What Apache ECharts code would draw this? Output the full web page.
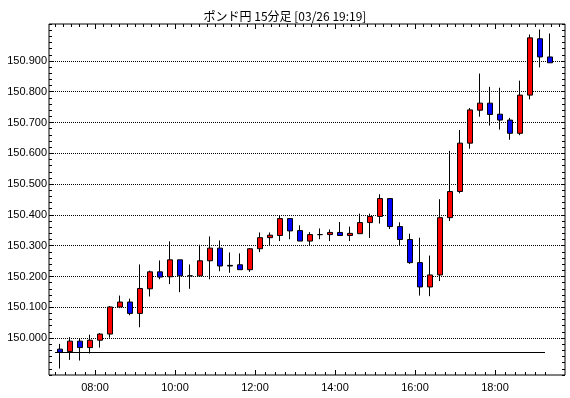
<!DOCTYPE html>
<html>
<head>
<meta charset="utf-8">
<script src="https://cdn.jsdelivr.net/npm/echarts@6/dist/echarts.min.js"></script>
<style>
  html, body { margin: 0; padding: 0; background: #fff; }
  #main { width: 570px; height: 398px; }
</style>
</head>
<body>
<div id="main"></div>
<script>
// 15分足 ローソク足 (07:00 - 19:15)
const candleTimes = ['07:00','07:15','07:30','07:45','08:00','08:15','08:30','08:45',
  '09:00','09:15','09:30','09:45','10:00','10:15','10:30','10:45',
  '11:00','11:15','11:30','11:45','12:00','12:15','12:30','12:45',
  '13:00','13:15','13:30','13:45','14:00','14:15','14:30','14:45',
  '15:00','15:15','15:30','15:45','16:00','16:15','16:30','16:45',
  '17:00','17:15','17:30','17:45','18:00','18:15','18:30','18:45',
  '19:00','19:15'];
const openVals = [149.964,149.956,149.990,149.969,149.993,150.013,150.101,150.117,
  150.080,150.160,150.215,150.199,150.254,150.202,150.202,150.251,
  150.292,150.236,150.238,150.222,150.290,150.326,150.333,150.388,
  150.349,150.315,150.336,150.336,150.343,150.333,150.339,150.375,
  150.395,150.453,150.362,150.320,150.245,150.166,150.205,150.391,
  150.476,150.633,150.740,150.763,150.727,150.708,150.665,150.789,
  150.972,150.913];
const closeVals = [149.954,149.990,149.969,149.993,150.013,150.101,150.117,150.080,
  150.161,150.215,150.198,150.254,150.202,150.202,150.251,150.292,
  150.234,150.234,150.222,150.290,150.326,150.334,150.388,150.348,
  150.315,150.336,150.336,150.343,150.333,150.340,150.375,150.395,
  150.453,150.362,150.320,150.245,150.166,150.205,150.391,150.476,
  150.633,150.741,150.763,150.726,150.708,150.665,150.789,150.975,
  150.913,150.894];
const lowVals = [149.901,149.929,149.927,149.950,149.969,150.001,150.097,150.074,
  150.035,150.135,150.191,150.175,150.149,150.160,150.202,150.191,
  150.217,150.212,150.222,150.215,150.279,150.300,150.315,150.321,
  150.315,150.302,150.321,150.315,150.333,150.315,150.339,150.325,
  150.372,150.354,150.300,150.241,150.138,150.136,150.185,150.380,
  150.470,150.615,150.719,150.690,150.677,150.644,150.659,150.775,
  150.879,150.894];
const highVals = [149.981,150.003,149.997,150.011,150.016,150.104,150.138,150.128,
  150.239,150.219,150.252,150.314,150.254,150.239,150.303,150.330,
  150.317,150.278,150.275,150.292,150.343,150.343,150.397,150.388,
  150.366,150.344,150.356,150.353,150.377,150.362,150.404,150.404,
  150.467,150.453,150.376,150.339,150.326,150.268,150.451,150.608,
  150.676,150.747,150.859,150.816,150.813,150.715,150.836,150.986,
  151.002,150.989];

// 基準線
const refLineValue = 149.954;
const refLineFrom = '07:00';
const refLineTo = '19:15';

// 目盛
const yLabelValues = [150.0,150.1,150.2,150.3,150.4,150.5,150.6,150.7,150.8,150.9];
const xLabelTimes = ['08:00','10:00','12:00','14:00','16:00','18:00'];
const yMin = 149.88, yMax = 151.02;
const xMin = 411, xMax = 1185; // minutes

function toMin(t) { const p = t.split(':'); return (+p[0]) * 60 + (+p[1]); }
function toTime(m) {
  const h = Math.floor(m / 60), mm = m % 60;
  return (h < 10 ? '0' : '') + h + ':' + (mm < 10 ? '0' : '') + mm;
}

const xLabelMins = xLabelTimes.map(toMin);
const bottomTicks = [];
for (let m = 420; m <= 1155; m += 15) bottomTicks.push(m);
const topTicks = [];
for (let m = 420; m <= 1180; m += 12) topTicks.push(m);
const yMinorTicks = [];
for (let i = 0; i <= 57; i++) yMinorTicks.push(Math.round((yMin + i * 0.02) * 1000) / 1000);

const candleData = candleTimes.map((t, i) =>
  [toMin(t) + 7.5, openVals[i], closeVals[i], lowVals[i], highVals[i]]);

const labelFont = { fontFamily: 'Liberation Sans', fontSize: 11, color: '#000' };

function tickAxis(pos, ticks, len, extra) {
  return Object.assign({
    type: 'value', position: pos, min: xMin, max: xMax,
    axisLine: { show: false },
    axisTick: { show: true, inside: true, length: len, customValues: ticks, lineStyle: { color: '#000' } },
    axisLabel: { show: false },
    splitLine: { show: false }
  }, extra || {});
}

function yTickAxis(pos) {
  return {
    type: 'value', position: pos, min: yMin, max: yMax,
    axisLine: { show: false },
    axisTick: { show: true, inside: true, length: 3, customValues: yMinorTicks, lineStyle: { color: '#000' } },
    axisLabel: { show: false },
    splitLine: { show: false }
  };
}

let chart = echarts.init(document.getElementById('main'));
let option = {
  animation: false,
  backgroundColor: '#fff',
  title: {
    text: 'ポンド円 15分足 [03/26 19:19]',
    left: 'center',
    top: 5,
    textStyle: { fontFamily: 'Noto Sans CJK JP', fontSize: 12, fontWeight: 'normal', color: '#000' }
  },
  grid: {
    left: 49, right: 5, top: 24, bottom: 23,
    show: true, borderColor: '#000', borderWidth: 1, backgroundColor: 'transparent'
  },
  xAxis: [
    tickAxis('bottom', bottomTicks, 3, {
      axisLabel: Object.assign({
        show: true, margin: 7, customValues: xLabelMins,
        formatter: v => toTime(v)
      }, labelFont)
    }),
    tickAxis('bottom', xLabelMins, 5),
    tickAxis('top', topTicks, 3),
    tickAxis('top', xLabelMins, 5)
  ],
  yAxis: [
    {
      type: 'value', position: 'left', min: yMin, max: yMax,
      axisLine: { show: false },
      axisTick: { show: true, inside: true, length: 4, customValues: yLabelValues, lineStyle: { color: '#000' } },
      axisLabel: Object.assign({
        show: true, margin: 2, customValues: yLabelValues,
        formatter: v => v.toFixed(3)
      }, labelFont),
      splitLine: { show: true, lineStyle: { color: '#000', type: [1, 1], width: 1 } }
    },
    yTickAxis('left'),
    yTickAxis('right')
  ],
  series: [
    {
      type: 'candlestick',
      xAxisIndex: 0,
      yAxisIndex: 0,
      barWidth: 6,
      data: candleData,
      itemStyle: {
        color: '#ff0000',
        color0: '#0000ff',
        borderColor: '#000',
        borderColor0: '#000',
        borderColorDoji: '#000',
        borderWidth: 1
      },
      markLine: {
        silent: true,
        symbol: 'none',
        label: { show: false },
        lineStyle: { color: '#000', type: 'solid', width: 1 },
        data: [[
          { coord: [toMin(refLineFrom), refLineValue] },
          { coord: [toMin(refLineTo), refLineValue] }
        ]]
      }
    }
  ]
};
chart.setOption(option);
</script>
</body>
</html>
